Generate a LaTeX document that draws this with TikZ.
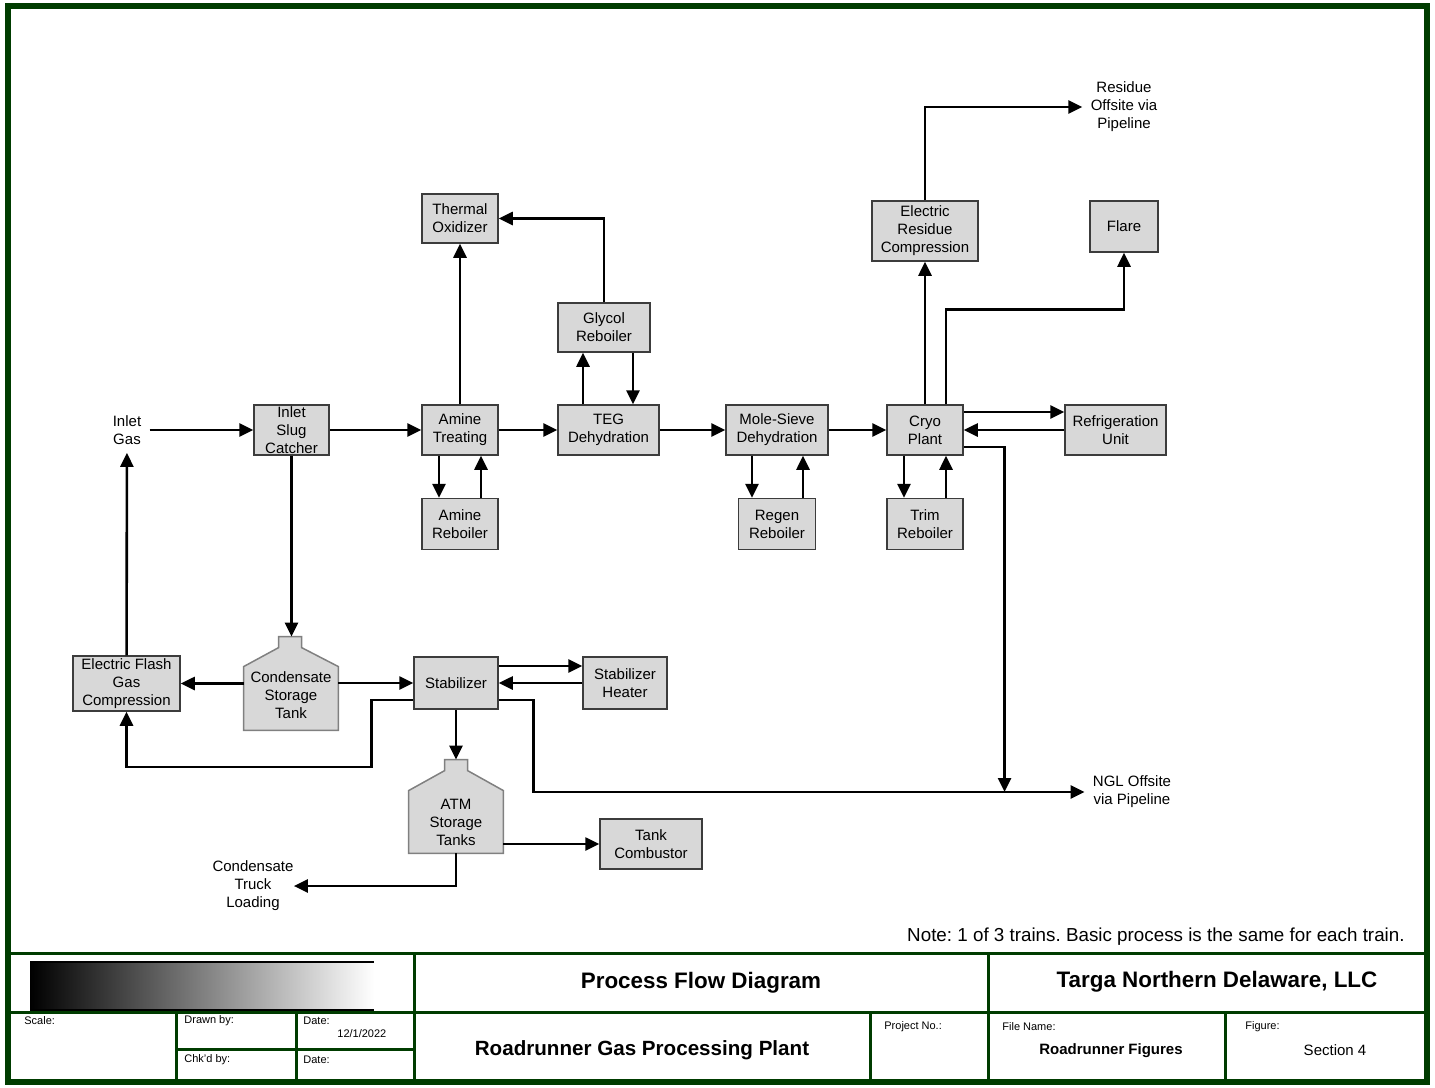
\documentclass[tikz,border=0pt]{standalone}
\usepackage{fontspec}
\setmainfont{Liberation Sans}
\usetikzlibrary{arrows.meta,positioning,calc,backgrounds}
\definecolor{sheetgreen}{RGB}{0,60,0}
\definecolor{boxfill}{RGB}{216,216,216}
\definecolor{boxline}{RGB}{60,60,60}
\definecolor{tankline}{RGB}{128,128,128}
\newcommand{\lblfont}{\fontsize{7.5}{9}\selectfont}
\newcommand{\fieldfont}{\fontsize{5.5}{6.5}\selectfont}
\frenchspacing

\begin{document}
\begin{tikzpicture}
[x=0.5pt, y=-0.5pt, node distance=21pt, >={Triangle[length=7pt,width=6.5pt]},
unit/.style = {draw=boxline, fill=boxfill, line width=0.75pt, align=center,
  minimum height=25pt, inner sep=1pt, font=\lblfont},
tank/.style = {align=center, inner sep=0pt, font=\lblfont},
tankwall/.style = {draw=tankline, fill=boxfill, line width=0.75pt},
stream/.style = {align=center, inner sep=4pt, font=\lblfont},
flow/.style = {->, line width=1.3pt},
sheet/.style = {draw=sheetgreen, line width=1.5pt},
field/.style = {anchor=west, inner sep=0pt, font=\fieldfont}]

\useasboundingbox (0,0) rectangle (1435,1087);

% main train
\node[stream] (inlet) at (127,430) {Inlet\\Gas};
\node[unit, minimum width=37.5pt, inner ysep=0pt] (slug) at (291.5,430) {Inlet\\Slug\\Catcher};
\node[unit, minimum width=38pt] (amine) at (460,430) {Amine\\Treating};
\node[unit, minimum width=38pt, minimum height=24.5pt] (thermal) at (460,218.5) {Thermal\\Oxidizer};
\node[unit, minimum width=38pt, minimum height=25.5pt, below=of amine] (amineR) {Amine\\Reboiler};
\node[unit, minimum width=50.5pt] (teg) at (608.5,430) {TEG\\Dehydration};
\node[unit, minimum width=46pt, minimum height=24.5pt] (glycol) at (604,327.5) {Glycol\\Reboiler};
\node[unit, minimum width=51pt] (mole) at (777,430) {Mole-Sieve\\Dehydration};
\node[unit, minimum width=38.5pt, minimum height=25.5pt, below=of mole] (regen) {Regen\\Reboiler};
\node[unit, minimum width=38pt] (cryo) at (925,430) {Cryo\\Plant};
\node[unit, minimum width=38pt, minimum height=25.5pt, below=of cryo] (trim) {Trim\\Reboiler};
\node[unit, minimum width=50.5pt] (refrig) at (1115.5,430) {Refrigeration\\Unit};
\node[unit, minimum width=53pt, minimum height=30pt] (erc) at (925,231) {Electric\\Residue\\Compression};
\node[unit, minimum width=34pt, minimum height=25.5pt] (flare) at (1124,226.5) {Flare};
\node[stream] (residue) at (1124,107) {Residue\\Offsite via\\Pipeline};

% condensate side
\node[unit, minimum width=53.5pt, minimum height=27.5pt] (efgc) at (126.5,683.5) {Electric Flash\\Gas\\Compression};
\node[tank, minimum width=47pt, minimum height=35pt] (cst) at (291,695) {Condensate\\Storage\\Tank};
\node[unit, minimum width=42pt, minimum height=26pt] (stab) at (456,683) {Stabilizer};
\node[unit, minimum width=42pt, minimum height=26pt] (heater) at (625,683) {Stabilizer\\Heater};
\node[tank, minimum width=47pt, minimum height=31pt] (atm) at (456,822) {ATM\\Storage\\Tanks};
\node[unit, minimum width=51pt] (combustor) at (651,844) {Tank\\Combustor};
\node[stream, inner xsep=0pt] (truck) at (253,886) {Condensate\\Truck\\Loading};
\node[stream] (ngl) at (1132,792) {NGL Offsite\\via Pipeline};

\begin{scope}[on background layer]
\fill[white] (0,0) rectangle (1435,1087);
\draw[tankwall] (cst.south west) -- ([yshift=-3.5pt]cst.north west) -- ++(35,-19) -- ++(0,-11)
  -- ++(23,0) coordinate[pos=.5] (csttop) -- ++(0,11) -- ([yshift=-3.5pt]cst.north east)
  -- (cst.south east) -- cycle;
\draw[tankwall] (atm.south west) -- (atm.north west) -- ++(36,-20) -- ++(0,-11)
  -- ++(23,0) coordinate[pos=.5] (atmtop) -- ++(0,11) -- (atm.north east)
  -- (atm.south east) -- cycle;
\end{scope}

\coordinate (ngljoin) at ($(ngl.west)+(-80,0)$);

% streams
\draw[flow] (inlet) -- (slug);
\draw[flow] (slug) -- (amine);
\draw[flow] (amine) -- (teg);
\draw[flow] (teg) -- (mole);
\draw[flow] (mole) -- (cryo);
\draw[flow] (amine) -- (thermal);
\draw[flow] (glycol.north) |- (thermal.east);
\draw[flow] ($(teg.north)+(-25.5,0)$) coordinate (t1) -- (t1 |- glycol.south);
\draw[flow] ($(glycol.south)+(29,0)$) coordinate (g1) -- (g1 |- teg.north);
\draw[flow] ($(amine.south)+(-21,0)$) coordinate (a1) -- (a1 |- amineR.north);
\draw[flow] ($(amineR.north)+(21,0)$) coordinate (a2) -- (a2 |- amine.south);
\draw[flow] ($(mole.south)+(-25,0)$) coordinate (m1) -- (m1 |- regen.north);
\draw[flow] ($(regen.north)+(26,0)$) coordinate (m2) -- (m2 |- mole.south);
\draw[flow] ($(cryo.south)+(-21,0)$) coordinate (c1) -- (c1 |- trim.north);
\draw[flow] ($(trim.north)+(21,0)$) coordinate (c2) -- (c2 |- cryo.south);
\draw[flow] ($(cryo.east)+(0,-18)$) coordinate (c3) -- (c3 -| refrig.west);
\draw[flow] (refrig) -- (cryo);
\draw[flow] (cryo) -- (erc);
\draw[flow] (erc.north) |- (residue.west);
\draw[flow] ($(cryo.north)+(21,0)$) -- ++(0,-95) -| (flare.south);
\draw[flow] ($(cryo.east)+(0,17)$) -| (ngljoin);
\draw[flow] ($(stab.east)+(0,17)$) -- ++(35,0) |- (ngl.west);

\draw[flow] (slug.south) -- (slug.south |- csttop);
\draw[flow] (efgc -| cst.west) -- (efgc.east);
\draw[flow] (stab -| cst.east) -- (stab.west);
\draw[flow] (efgc) -- (inlet);
\draw[flow] ($(stab.west)+(0,17)$) -- ++(-42,0) -- ++(0,67) -| (efgc.south);
\draw[flow] ($(stab.east)+(0,-17)$) coordinate (s1) -- (s1 -| heater.west);
\draw[flow] (heater) -- (stab);
\draw[flow] (stab.south) -- (stab.south |- atmtop);
\draw[flow] (combustor -| atm.east) -- (combustor.west);
\draw[flow] (atm.south) |- (truck.east);

\node[anchor=east, inner sep=0pt, font=\fontsize{9.4}{11}\selectfont] (note) at (1405,937)
  {Note: 1 of 3 trains. Basic process is the same for each train.};

% title block
\draw[draw=sheetgreen, line width=3pt] (8,6) rectangle (1427,1082);
\draw[sheet] (8,953) -- (1427,953) (8,1012) -- (1427,1012)
  (414,953) -- (414,1082) (988,953) -- (988,1082)
  (176,1012) -- (176,1082) (296,1012) -- (296,1082)
  (870,1012) -- (870,1082) (1225,1012) -- (1225,1082)
  (176,1049) -- (414,1049);
\shade[left color=black, right color=white] (30,962) rectangle (374,1010);
\draw[line width=0.6pt] (30,962) -- (374,962) (30,1010) -- (374,1010);

\node[font=\bfseries\fontsize{11.2}{13}\selectfont] (pfd) at (701,983) {Process Flow Diagram};
\node[font=\bfseries\fontsize{11.2}{13}\selectfont] (targa) at (1217,982) {Targa Northern Delaware, LLC};
\node[font=\bfseries\fontsize{10.3}{12}\selectfont] (plant) at (642,1050) {Roadrunner Gas Processing Plant};
\node[font=\bfseries\lblfont] (fname) at (1111,1051) {Roadrunner Figures};
\node[font=\lblfont] (figno) at (1335,1050) {Section 4};
\node[field] (scale) at (24,1021) {Scale:};
\node[field] (drawn) at (184,1021) {Drawn by:};
\node[field] (date1) at (303,1021) {Date:};
\node[field] (dateval) at (337,1034) {12/1/2022};
\node[field] (chkd) at (184,1060) {Chk'd by:};
\node[field] (date2) at (303,1060) {Date:};
\node[field] (projno) at (884,1027) {Project No.:};
\node[field] (filename) at (1002,1027) {File Name:};
\node[field] (figure) at (1245,1027) {Figure:};

\end{tikzpicture}
\end{document}
